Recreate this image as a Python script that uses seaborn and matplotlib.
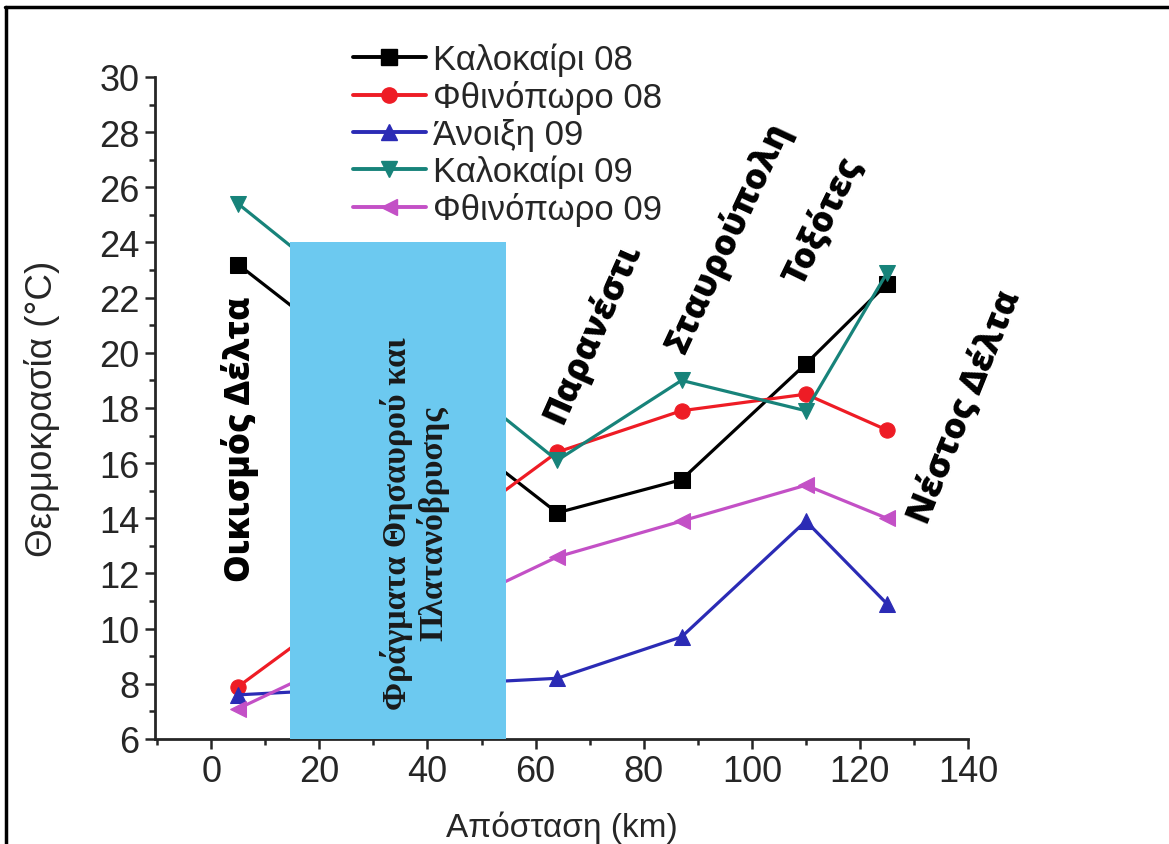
import matplotlib
matplotlib.use("Agg")
import matplotlib.pyplot as plt
from matplotlib.patches import Rectangle
from matplotlib.lines import Line2D
from matplotlib.ticker import MultipleLocator
import seaborn as sns
import pandas as pd

# ---- data ----
distance = [5, 64, 87, 110, 125]
summer08 = [23.2, 14.2, 15.4, 19.6, 22.5]
autumn08 = [7.9, 16.4, 17.9, 18.5, 17.2]
spring09 = [7.6, 8.2, 9.7, 13.9, 10.9]
summer09 = [25.4, 16.1, 19.0, 17.9, 22.9]
autumn09 = [7.1, 12.6, 13.9, 15.2, 14.0]
series_names = ["Καλοκαίρι 08", "Φθινόπωρο 08", "Άνοιξη 09", "Καλοκαίρι 09", "Φθινόπωρο 09"]
series_values = [summer08, autumn08, spring09, summer09, autumn09]
site_labels = ["Οικισμός Δέλτα", "Παρανέστι", "Σταυρούπολη", "Τοξότες", "Νέστος Δέλτα"]
dam_label = "Φράγματα Θησαυρού και\nΠλατανόβρυσης"
dam_range = (14.5, 54.6)
dam_top = 24.0

colors = ["#000000", "#ee1c25", "#2b2bb5", "#17837a", "#c350c6"]
markers = ["s", "o", "^", "v", "<"]

rows = []
for name, vals in zip(series_names, series_values):
    for d, v in zip(distance, vals):
        rows.append({"Απόσταση": d, "Θερμοκρασία": v, "Εποχή": name})
df = pd.DataFrame(rows)

sns.set_style("ticks")
plt.rcParams["font.family"] = ["Liberation Sans", "DejaVu Sans"]

fig = plt.figure(figsize=(11.69, 8.45), dpi=100)
ax = fig.add_axes([0.1326, 0.1243, 0.6955, 0.7834])

sns.lineplot(data=df, x="Απόσταση", y="Θερμοκρασία", hue="Εποχή", style="Εποχή",
             palette=dict(zip(series_names, colors)),
             markers=dict(zip(series_names, markers)), dashes=False,
             linewidth=2.3, markersize=11, ax=ax, legend=False, zorder=2)
for ln in ax.lines:
    ln.set_markeredgecolor(ln.get_color())

# dam rectangle
ax.add_patch(Rectangle((dam_range[0], 6), dam_range[1] - dam_range[0], dam_top - 6,
                       facecolor="#6cc9f0", edgecolor="none", zorder=3))
ax.text(37.6, 13.85, dam_label, rotation=90, ha="center", va="center",
        fontsize=24.5, fontweight="bold", family=["Liberation Serif", "DejaVu Serif"],
        color="#1a1a1a", zorder=4, linespacing=1.15)

# site labels
site_pos = [(5.4, 16.9, 90), (70.5, 20.75, 66), (95.6, 24.2, 65), (113.2, 24.8, 64), (139.6, 18.07, 68)]
for lab, (x, y, r) in zip(site_labels, site_pos):
    ax.text(x, y, lab, rotation=r, ha="center", va="center", fontsize=25,
            fontweight="heavy", family=["Open Sans", "DejaVu Sans"], color="black",
            rotation_mode="anchor", zorder=5)

ax.set_xlim(-10.4, 140)
ax.set_ylim(6, 30)
ax.xaxis.set_major_locator(MultipleLocator(20))
ax.xaxis.set_minor_locator(MultipleLocator(10))
ax.yaxis.set_major_locator(MultipleLocator(2))
ax.yaxis.set_minor_locator(MultipleLocator(1))
ax.tick_params(which="major", direction="out", length=7, width=1.8, labelsize=26, pad=4)
ax.tick_params(which="minor", direction="out", length=4, width=1.8)
for s in ["top", "right"]:
    ax.spines[s].set_visible(False)
for s in ["left", "bottom"]:
    ax.spines[s].set_linewidth(2.0)

ax.set_xlabel("Απόσταση (km)", fontsize=24, labelpad=15)
ax.set_ylabel("Θερμοκρασία (°C)", fontsize=26.5, labelpad=28)

handles = [Line2D([], [], color=c, marker=m, markersize=11, markeredgecolor=c, linewidth=2.8)
           for c, m in zip(colors, markers)]
fig.legend(handles, series_names, loc="upper left", bbox_to_anchor=(0.302, 0.948),
           frameon=False, fontsize=25, handlelength=2.1, handletextpad=0.2,
           labelspacing=0.11, borderaxespad=0, borderpad=0)

# figure border (top and left)
fig.add_artist(Line2D([0.004, 1.0], [1 - 8 / 845, 1 - 8 / 845], color="black", linewidth=2.5,
                      transform=fig.transFigure))
fig.add_artist(Line2D([0.005, 0.005], [0.0, 1 - 8 / 845], color="black", linewidth=2.5,
                      transform=fig.transFigure))

fig.savefig("out.png", dpi=100)
